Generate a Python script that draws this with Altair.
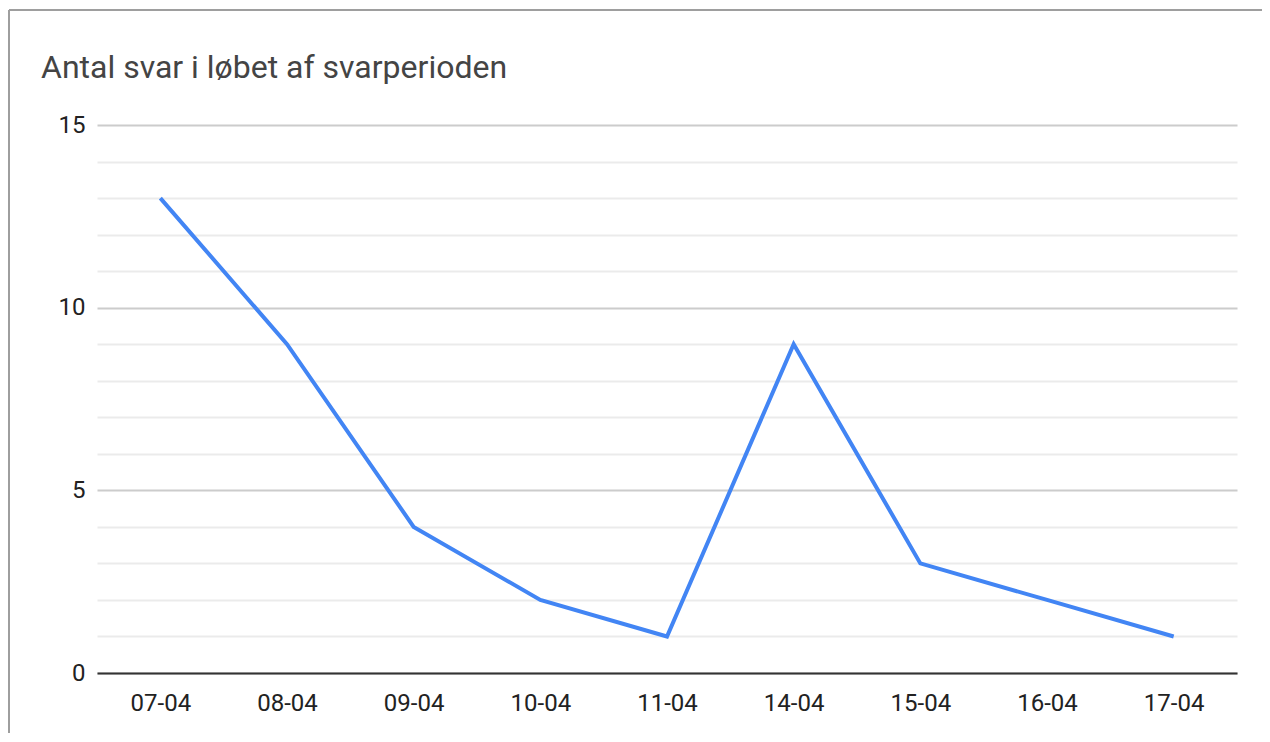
import altair as alt
import pandas as pd

dates = ["07-04", "08-04", "09-04", "10-04", "11-04", "14-04", "15-04", "16-04", "17-04"]
counts = [13, 9, 4, 2, 1, 9, 3, 2, 1]
y_ticks = list(range(0, 16))

df = pd.DataFrame({"dato": dates, "antal": counts})

FONT = "Roboto"

line = alt.Chart(df).mark_line(
    color="#4285F4", strokeWidth=4, strokeCap="butt", strokeJoin="miter"
).encode(
    x=alt.X("dato:N", sort=dates, title=None,
            scale=alt.Scale(padding=0.5),
            axis=alt.Axis(labelAngle=0, ticks=False, grid=False, domain=True,
                          domainColor="#333333", domainWidth=2,
                          labelFont=FONT, labelFontSize=24, labelColor="#222222",
                          labelPadding=18, zindex=2)),
    y=alt.Y("antal:Q", title=None,
            scale=alt.Scale(domain=[0, 15], nice=False),
            axis=alt.Axis(values=y_ticks, ticks=False, domain=False, grid=True,
                          gridWidth=2,
                          gridColor=alt.condition("datum.value % 5 === 0",
                                                  alt.value("#cccccc"), alt.value("#ebebeb")),
                          labelExpr="datum.value % 5 === 0 ? datum.label : ''",
                          labelFont=FONT, labelFontSize=24, labelColor="#222222",
                          labelPadding=12)),
)

frame = pd.DataFrame({"k": [0]})
top_border = alt.Chart(frame).mark_rule(color="#9e9e9e", strokeWidth=2).encode(
    x=alt.value(-88), x2=alt.value(1170), y=alt.value(-115)
)
left_border = alt.Chart(frame).mark_rule(color="#9e9e9e", strokeWidth=2).encode(
    x=alt.value(-88), y=alt.value(-115), y2=alt.value(620)
)

chart = alt.layer(top_border, left_border, line).properties(
    width=1140,
    height=548,
    title=alt.TitleParams(
        "Antal svar i løbet af svarperioden",
        anchor="start", font=FONT, fontSize=32, fontWeight="normal",
        color="#444444", dx=33, offset=-101, baseline="alphabetic",
    ),
    autosize=alt.AutoSizeParams(type="none"),
    padding={"left": 89, "top": 117, "right": 25, "bottom": 60},
).configure(background="white").configure_view(stroke=None)

chart.save("out.html", embed_options={"renderer": "svg", "actions": False})
